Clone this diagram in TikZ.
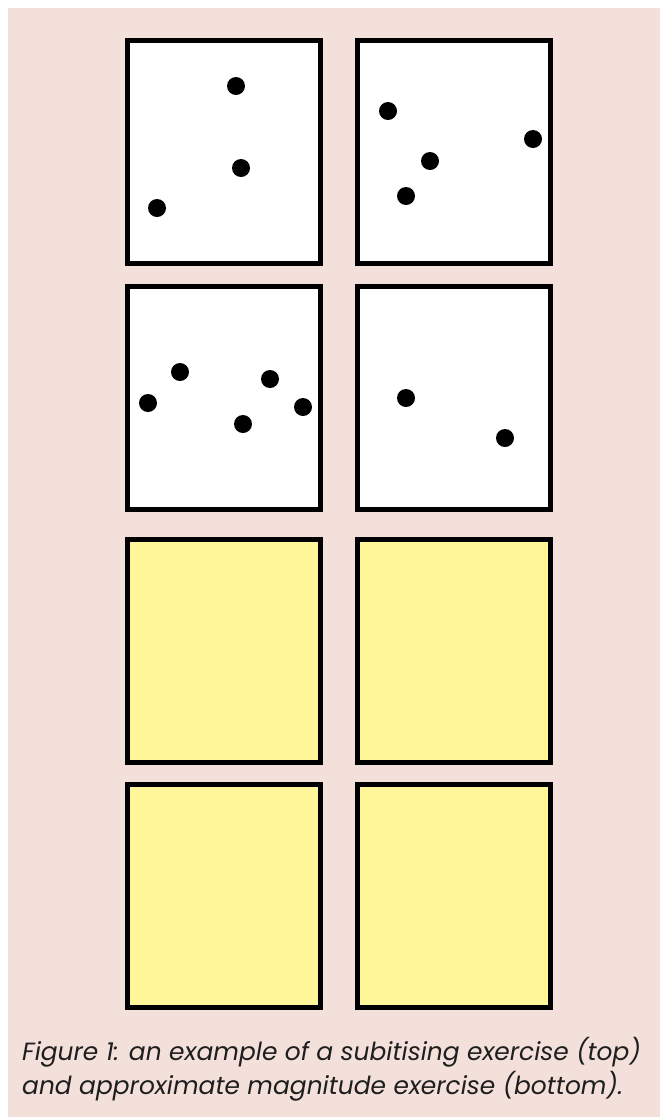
\documentclass[tikz,border=0pt]{standalone}
\usepackage{fontspec}
\setmainfont{Poppins}
\usetikzlibrary{positioning}
\definecolor{pagepink}{HTML}{F4E0DB}
\definecolor{cardyellow}{HTML}{FFF69A}
\definecolor{captiontext}{HTML}{1E1E1E}

\begin{document}
\begin{tikzpicture}[x=1bp,y=-1bp,
    card/.style={rectangle,draw=black,line width=5bp,minimum width=193bp,minimum height=223bp,inner sep=0pt},
    dot/.style={circle,fill=black,minimum size=18bp,inner sep=0pt}]

\useasboundingbox (0,0) rectangle (660,1117);
\fill[pagepink] (8,8) rectangle (660,1117);

% subitising cards
\node[card,fill=white] (subA) at (224,152) {};
\node[card,fill=white,right=32bp of subA] (subB) {};
\node[card,fill=white,below=18bp of subA] (subC) {};
\node[card,fill=white,right=32bp of subC] (subD) {};

% magnitude cards
\node[card,fill=cardyellow,below=25bp of subC] (magA) {};
\node[card,fill=cardyellow,right=32bp of magA] (magB) {};
\node[card,fill=cardyellow,below=17bp of magA] (magC) {};
\node[card,fill=cardyellow,right=32bp of magC] (magD) {};

% dots
\node[dot] (a1) at (236,86) {};
\node[dot] (a2) at (241,168) {};
\node[dot] (a3) at (157,208) {};

\node[dot] (b1) at (388,111) {};
\node[dot] (b2) at (533,139) {};
\node[dot] (b3) at (430,161) {};
\node[dot] (b4) at (406,196) {};

\node[dot] (c1) at (180,372) {};
\node[dot] (c2) at (148,403) {};
\node[dot] (c3) at (270,379) {};
\node[dot] (c4) at (243,424) {};
\node[dot] (c5) at (303,407) {};

\node[dot] (d1) at (406,398) {};
\node[dot] (d2) at (505,438) {};

% caption
\node[anchor=base west,inner sep=0pt,text=captiontext,font=\itshape\fontsize{25}{34}\selectfont] (capA) at (22,1060) {Figure 1: an example of a subitising exercise (top)};
\node[anchor=base west,inner sep=0pt,text=captiontext,font=\itshape\fontsize{25}{34}\selectfont] (capB) at (22,1094) {and approximate magnitude exercise (bottom).};

\end{tikzpicture}
\end{document}
